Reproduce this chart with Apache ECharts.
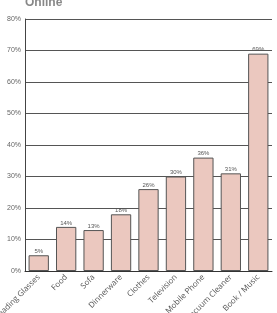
<!DOCTYPE html>
<html>
<head>
<meta charset="utf-8">
<script src="https://cdn.jsdelivr.net/npm/echarts@6/dist/echarts.min.js"></script>
<style>
  html, body { margin: 0; padding: 0; background: #fff; }
  #chart { width: 277px; height: 313px; }
</style>
</head>
<body>
<div id="chart"></div>
<script>
const categories = ['Reading Glasses', 'Food', 'Sofa', 'Dinnerware', 'Clothes', 'Television', 'Mobile Phone', 'Vacuum Cleaner', 'Book / Music']
const values = [5, 14, 13, 18, 26, 30, 36, 31, 69]

const chart = echarts.init(document.getElementById('chart'))

chart.setOption({
  animation: false,
  title: {
    text: 'Online',
    left: 20,
    top: -8,
    textStyle: { fontFamily: 'Liberation Sans', fontSize: 12, fontWeight: 'bold', color: '#888' }
  },
  grid: { left: 25, right: 5, top: 19, bottom: 42, outerBoundsMode: 'none', containLabel: false },
  xAxis: {
    type: 'category',
    data: categories,
    axisLine: { lineStyle: { color: '#333', width: 1 } },
    axisTick: { show: false },
    axisLabel: {
      rotate: 45,
      interval: 0,
      margin: 5,
      fontFamily: 'Open Sans',
      fontSize: 8,
      color: '#555'
    }
  },
  yAxis: {
    type: 'value',
    min: 0,
    max: 80,
    interval: 10,
    axisLine: { show: true, lineStyle: { color: '#444', width: 1 } },
    axisTick: { show: false },
    axisLabel: {
      formatter: v => v + '%',
      fontFamily: 'Liberation Sans',
      fontSize: 7,
      color: '#666',
      margin: 4
    },
    splitLine: { lineStyle: { color: '#555', width: 1 } }
  },
  series: [{
    type: 'bar',
    data: values,
    barWidth: '74%',
    itemStyle: { color: '#ebc8bf', borderColor: '#555', borderWidth: 1 },
    label: {
      show: true,
      position: 'top',
      distance: 1,
      formatter: p => p.value + '%',
      fontFamily: 'Liberation Sans',
      fontSize: 6,
      color: '#555'
    }
  }]
})
</script>
</body>
</html>
